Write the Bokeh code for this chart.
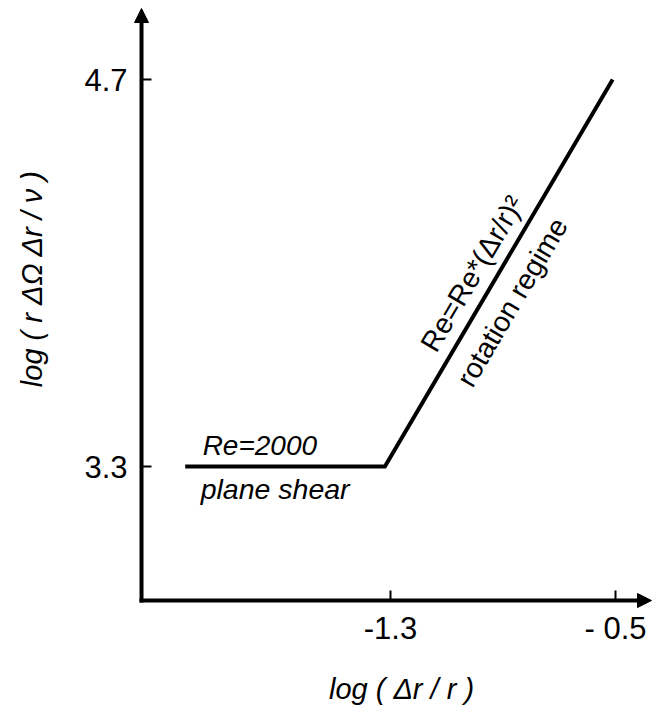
import math
from bokeh.plotting import figure
from bokeh.models import Range1d, FixedTicker, Arrow, NormalHead, Label
from bokeh.embed import file_html
from bokeh.resources import INLINE

# ---- data ----
regime_x = [-2.03, -1.32, -0.51]
regime_y = [3.3, 3.3, 4.7]
x_ticks = [-1.3, -0.5]
x_tick_labels = ["-1.3", "- 0.5"]
y_ticks = [3.3, 4.7]
y_tick_labels = ["3.3", "4.7"]

# plot window (data units) and axis geometry
X0, X1 = -2.6867, -0.3507
Y0, Y1 = 2.3884, 4.9858
AX_X = -2.1853      # x where the vertical axis stands
AX_Y = 2.8152       # y where the horizontal axis stands
TIP_X = -0.372      # x-axis arrow tip
TIP_Y = 4.9568      # y-axis arrow tip
SX = 281.25         # px per x unit
SY = 276.43         # px per y unit
FONT = "Liberation Sans"

p = figure(width=657, height=718, x_range=Range1d(X0, X1), y_range=Range1d(Y0, Y1),
           output_backend="svg", toolbar_location=None,
           min_border_left=0, min_border_right=0, min_border_top=0, min_border_bottom=0)
p.grid.visible = False
p.outline_line_color = None

for ax in (p.xaxis, p.yaxis):
    ax.axis_line_color = None
    ax.major_tick_line_width = 2
    ax.major_tick_line_color = "black"
    ax.major_tick_in = 10
    ax.major_tick_out = 0
    ax.minor_tick_line_color = None
    ax.major_label_text_font = FONT
    ax.major_label_text_font_size = "31px"
    ax.major_label_text_color = "black"

p.xaxis.fixed_location = AX_Y
p.yaxis.fixed_location = AX_X
p.xaxis.major_label_standoff = 10
p.yaxis.major_label_standoff = 14
p.xaxis.ticker = FixedTicker(ticks=x_ticks)
p.xaxis.major_label_overrides = dict(zip(x_ticks, x_tick_labels))
p.yaxis.ticker = FixedTicker(ticks=y_ticks)
p.yaxis.major_label_overrides = dict(zip(y_ticks, y_tick_labels))

# axis lines
p.segment(x0=[AX_X - 2 / SX, AX_X], y0=[AX_Y, AX_Y - 2 / SY],
          x1=[TIP_X - 10 / SX, AX_X], y1=[AX_Y, TIP_Y - 10 / SY],
          line_width=4, line_color="black")

# axis arrow heads
p.add_layout(Arrow(end=NormalHead(size=14, fill_color="black", line_color="black", line_width=1),
                   x_start=AX_X, y_start=TIP_Y - 12 / SY, x_end=AX_X, y_end=TIP_Y,
                   line_alpha=0))
p.add_layout(Arrow(end=NormalHead(size=14, fill_color="black", line_color="black", line_width=1),
                   x_start=TIP_X - 12 / SX, y_start=AX_Y, x_end=TIP_X, y_end=AX_Y,
                   line_alpha=0))

# regime line
p.line(regime_x, regime_y, line_width=4, line_color="black", line_join="miter")

ang = math.atan2((regime_y[2] - regime_y[1]) * SY, (regime_x[2] - regime_x[1]) * SX)

p.add_layout(Label(x=-1.968, y=3.377, text="Re=2000", text_font=FONT, text_font_style="italic",
                   text_font_size="28px", text_align="left", text_baseline="alphabetic", text_color="black"))
p.add_layout(Label(x=-1.975, y=3.220, text="plane shear", text_font=FONT, text_font_style="italic",
                   text_font_size="28.5px", text_align="left", text_baseline="alphabetic", text_color="black"))
p.add_layout(Label(x=-1.010, y=3.998, text="Re=Re*(\u0394r/r)\u00b2", text_font=FONT,
                   text_font_size="28.5px", text_align="center", text_baseline="middle",
                   angle=ang, text_color="black"))
p.add_layout(Label(x=-0.868, y=3.895, text="rotation regime", text_font=FONT,
                   text_font_size="28.5px", text_align="center", text_baseline="middle",
                   angle=ang, text_color="black"))
# axis titles
p.add_layout(Label(x=-2.5764, y=3.980, text="log ( r \u0394\u03a9 \u0394r / \u03bd )", text_font=FONT,
                   text_font_style="italic", text_font_size="29px", text_align="center",
                   text_baseline="middle", angle=math.pi / 2, text_color="black"))
p.add_layout(Label(x=-1.2609, y=2.4969, text="log ( \u0394r / r )", text_font=FONT,
                   text_font_style="italic", text_font_size="29px", text_align="center",
                   text_baseline="middle", text_color="black"))

open("out.html", "w").write(file_html(p, INLINE))
